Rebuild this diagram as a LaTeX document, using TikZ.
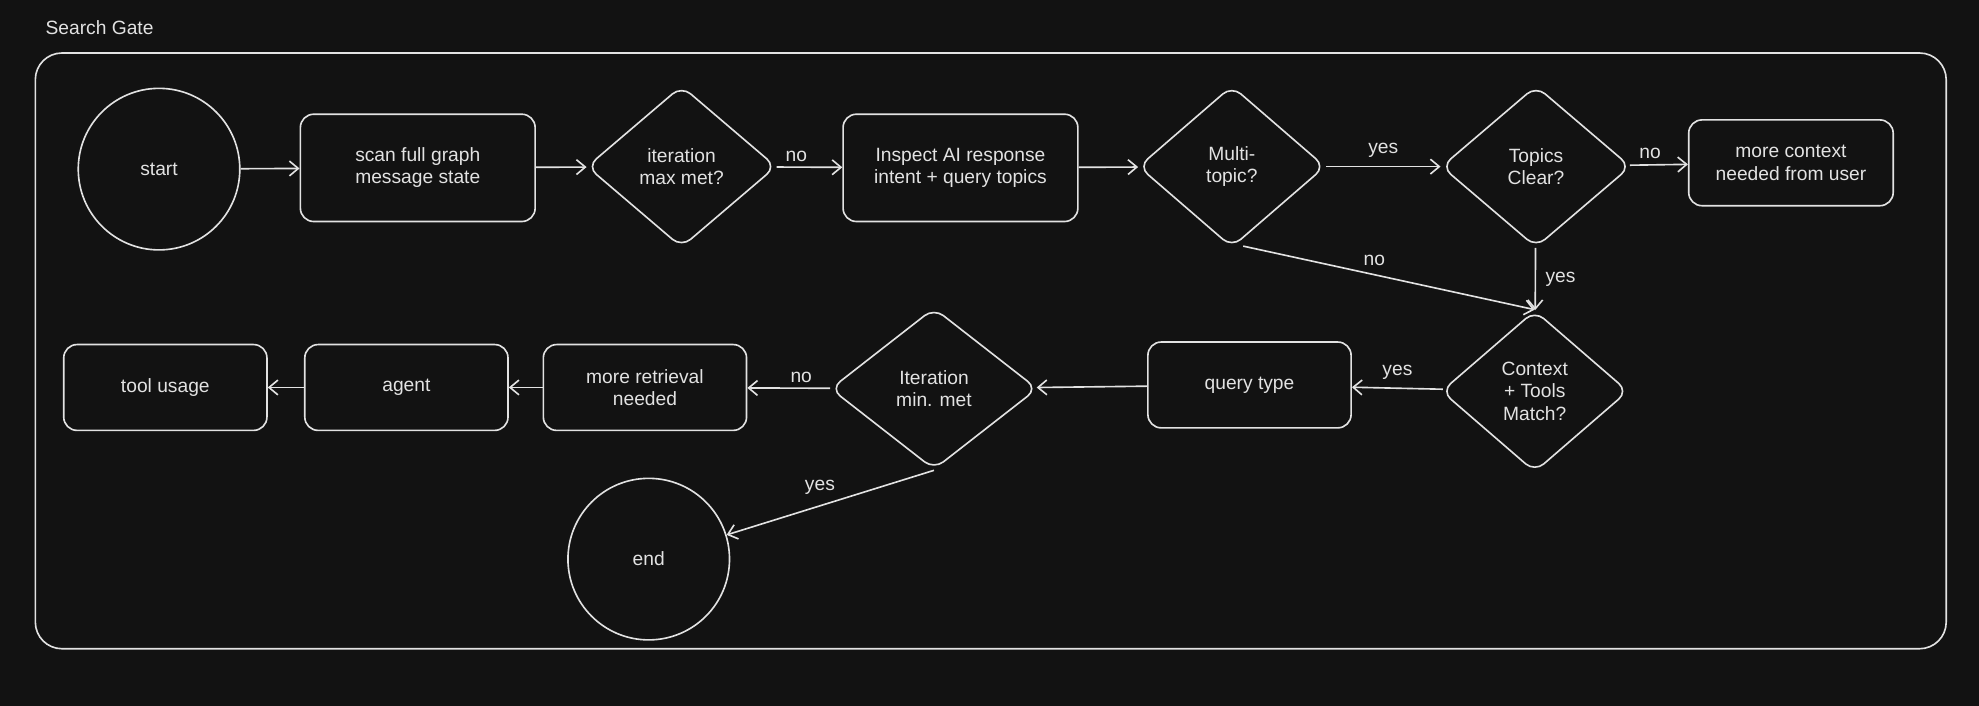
\documentclass[tikz,border=0pt]{standalone}
\usepackage{fontspec}
\setmainfont{Liberation Sans}
\usetikzlibrary{shapes.geometric,arrows.meta}
\definecolor{bg}{HTML}{121212}
\definecolor{fg}{HTML}{E2E2E2}
\begin{document}
\begin{tikzpicture}[x=0.03cm,y=-0.03cm,
  every node/.style={text=fg,font=\fontsize{13}{15}\selectfont,align=center},
  box/.style={draw=fg,line width=1.1pt,rounded corners=9pt,inner sep=0pt},
  circ/.style={draw=fg,line width=1.1pt,circle,minimum size=3.84cm,inner sep=0pt},
  dia/.style={draw=fg,line width=1.1pt,diamond,rounded corners=8pt,inner sep=0pt},
  arr/.style={draw=fg,line width=1.1pt,-{Straight Barb[length=6pt,width=10pt]}},
  lab/.style={font=\fontsize{13}{15}\selectfont}]
\fill[bg] (0,0) rectangle (1568,559);
\useasboundingbox (0,0) rectangle (1568,559);
\node[anchor=west] (title) at (32,22) {Search Gate};
\draw[fg,line width=1.1pt,rounded corners=18pt] (28,42) rectangle (1542,514);
\node[circ] (start) at (126,134) {start};
\node[box,minimum width=5.58cm,minimum height=2.55cm] (scan) at (331,133) {scan full graph\\message state};
\node[dia,minimum width=4.5cm,minimum height=3.84cm] (iter) at (540,132) {iteration\\max met?};
\node[box,minimum width=5.58cm,minimum height=2.55cm] (insp) at (761,133) {Inspect AI response\\intent + query topics};
\node[dia,minimum width=4.44cm,minimum height=3.84cm] (multi) at (976,132) {Multi-\\topic?};
\node[dia,minimum width=4.5cm,minimum height=3.84cm] (clear) at (1217,132) {Topics\\Clear?};
\node[box,minimum width=4.86cm,minimum height=2.04cm] (more) at (1419,129) {more context\\needed from user};
\node[dia,minimum width=4.44cm,minimum height=3.84cm] (ctx) at (1216,310) {Context\\+ Tools\\Match?};
\node[box,minimum width=4.83cm,minimum height=2.04cm] (qt) at (990,305) {query type};
\node[dia,minimum width=4.92cm,minimum height=3.84cm] (imin) at (740,308) {Iteration\\min. met};
\node[box,minimum width=4.83cm,minimum height=2.04cm] (ret) at (511,307) {more retrieval\\needed};
\node[box,minimum width=4.83cm,minimum height=2.04cm] (agent) at (322,307) {agent};
\node[box,minimum width=4.83cm,minimum height=2.04cm] (tool) at (131,307) {tool usage};
\node[circ] (end) at (514,443) {end};
\draw[arr] (start) -- (scan);
\draw[arr] (scan) -- (iter);
\draw[arr] (iter) -- node[above,lab,pos=0.3] {no} (insp);
\draw[arr] (insp) -- (multi);
\draw[arr] (multi) -- node[above,lab,yshift=2pt] {yes} (clear);
\draw[arr] (clear) -- node[above,lab,pos=0.35] {no} (more);
\draw[arr] (clear) -- node[right,lab,xshift=3pt] {yes} (ctx);
\coordinate (mb) at (985,195);
\draw[arr] (mb) -- node[above,lab,pos=0.45,yshift=2pt] {no} (ctx.north);
\draw[arr] (ctx) -- node[above,lab,yshift=2pt] {yes} (qt);
\draw[arr] (qt) -- (imin);
\draw[arr] (imin) -- node[above,lab,pos=0.35] {no} (ret);
\draw[arr] (ret) -- (agent);
\draw[arr] (agent) -- (tool);
\draw[arr] (imin.south) -- node[above,lab,pos=0.55,yshift=4pt] {yes} (end);
\end{tikzpicture}
\end{document}
